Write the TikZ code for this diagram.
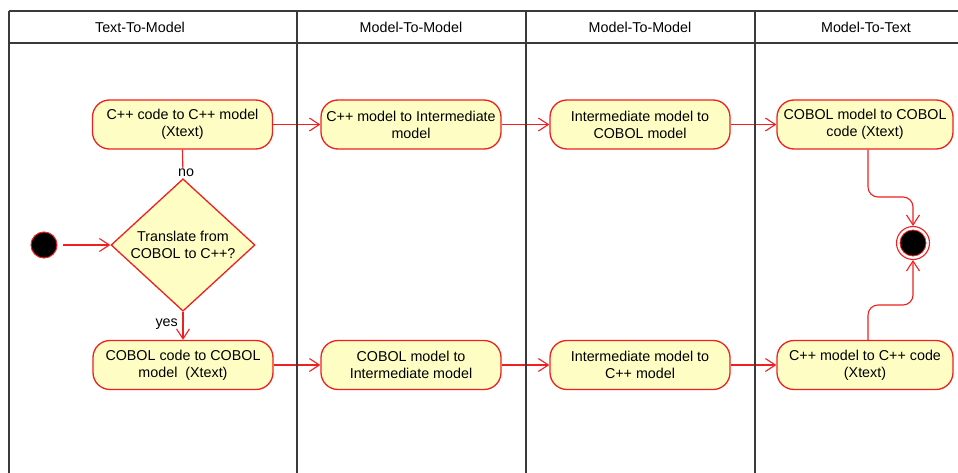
\documentclass[tikz,border=0pt]{standalone}
\usepackage{fontspec}
\setmainfont{Liberation Sans}
\usetikzlibrary{shapes.geometric,arrows.meta}
\definecolor{actfill}{HTML}{FEFEC4}
\definecolor{actred}{HTML}{F02020}
\definecolor{lanegray}{HTML}{3A3A3A}
\tikzset{
  txt/.style={font=\fontsize{14.3}{17}\selectfont},
  action/.style={txt, draw=actred, line width=1.3pt, fill=actfill,
    rounded corners=17pt, minimum height=49pt, minimum width=180pt,
    inner sep=2pt, align=center},
  decision/.style={txt, shape=diamond, draw=actred, line width=1.3pt,
    fill=actfill, minimum width=144pt, minimum height=106pt, inner sep=0pt,
    align=center},
  flow/.style={draw=actred, line width=1.1pt,
    -{Straight Barb[length=10pt,width=13pt,line width=1.1pt]}},
  plainflow/.style={draw=actred, line width=1.1pt},
  lane/.style={draw=lanegray, line width=1.4pt},
  guard/.style={txt, fill=white, inner sep=1pt},
}
\begin{document}
\begin{tikzpicture}[x=1pt,y=-1pt]
  \useasboundingbox (0,0) rectangle (958,473);

  % start and end points
  \node[circle, fill=black, draw=actred, line width=1pt, minimum size=26pt, inner sep=0pt] (start) at (44,245) {};
  \node[circle, fill=white, draw=actred, line width=1.1pt, minimum size=33pt, inner sep=0pt] (stop) at (913,243) {};
  \node[circle, fill=black, draw=actred, line width=0.8pt, minimum size=26pt, inner sep=0pt] (stopdot) at (913,243) {};

  % decision
  \node[decision] (choice) at (183,245) {Translate from\\COBOL to C++?};

  % upper row: C++ to COBOL
  \node[action] (cppParse) at (182.5,124.5) {C++ code to C++ model\\(Xtext)};
  \node[action] (cppToMid) at (411,124.5) {C++ model to Intermediate\\model};
  \node[action] (midToCob) at (640,124.5) {Intermediate model to\\COBOL model};
  \node[action, minimum width=176pt] (cobGen) at (865,124.5) {COBOL model to COBOL\\code (Xtext)};

  % lower row: COBOL to C++
  \node[action] (cobParse) at (183,365) {COBOL code to COBOL\\model\ \ (Xtext)};
  \node[action] (cobToMid) at (411,365) {COBOL model to\\Intermediate model};
  \node[action] (midToCpp) at (640,365) {Intermediate model to\\C++ model};
  \node[action, minimum width=176pt] (cppGen) at (865,365) {C++ model to C++ code\\(Xtext)};

  % flows
  \draw[flow, shorten <=5pt] (start) -- (choice.west);
  \draw[plainflow] (choice.north) -- (cppParse.south);
  \node[guard] (nolbl) at (186,173) {no};
  \draw[flow] (choice.south) -- (cobParse.north);
  \node[txt, anchor=east, inner sep=0pt] (yeslbl) at (178,324) {yes};

  \draw[flow] (cppParse) -- (cppToMid);
  \draw[flow] (cppToMid) -- (midToCob);
  \draw[flow] (midToCob) -- (cobGen);
  \draw[flow] (cobParse) -- (cobToMid);
  \draw[flow] (cobToMid) -- (midToCpp);
  \draw[flow] (midToCpp) -- (cppGen);

  \draw[flow, rounded corners=10pt] (cobGen.south -| 868,0) -- (868,197) -- (913,197) -- (stop.north);
  \draw[flow, rounded corners=10pt] (cppGen.north -| 868,0) -- (868,305) -- (913,305) -- (stop.south);

  % swimlanes
  \draw[lane] (9,11) -- (958,11);
  \draw[lane] (9,43) -- (958,43);
  \foreach \lx in {9,297,526,755} \draw[lane] (\lx,11) -- (\lx,473);

  \node[txt] (h1) at (140,27) {Text-To-Model};
  \node[txt] (h2) at (411,27) {Model-To-Model};
  \node[txt] (h3) at (640,27) {Model-To-Model};
  \node[txt] (h4) at (866,27) {Model-To-Text};
\end{tikzpicture}
\end{document}
